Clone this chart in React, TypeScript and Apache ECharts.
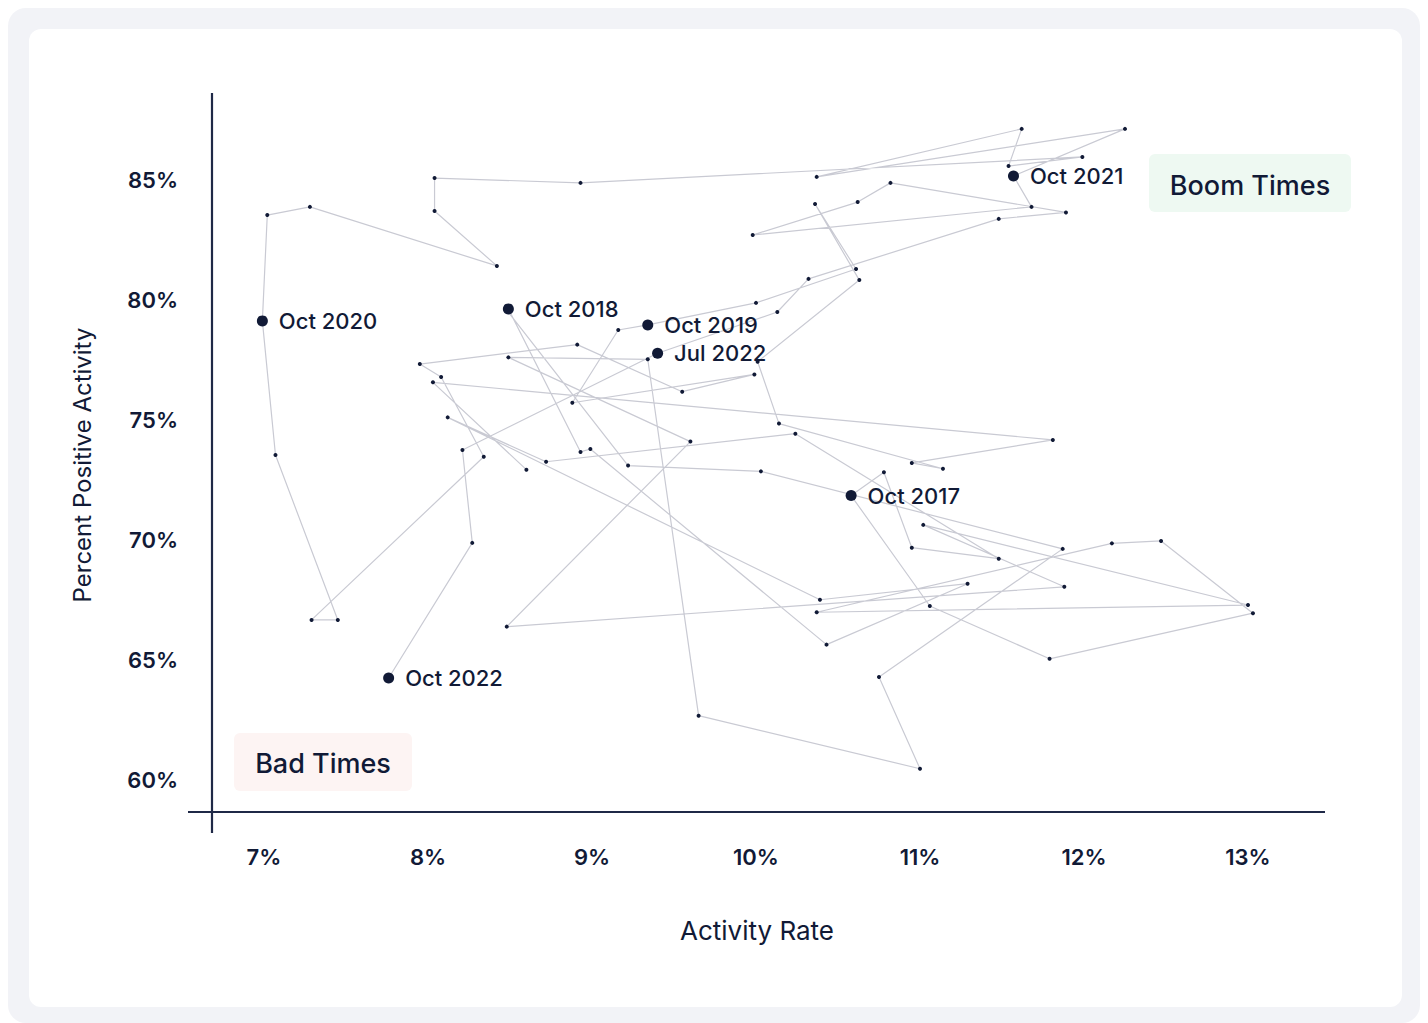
import React, { useEffect, useRef } from "react";
import * as echarts from "echarts";

// Observations in time order (Activity Rate %, Percent Positive Activity %); null = missing month
const activityRate: (number | null)[] = [
  8.48, 9.22, 10.03, 11.87, 10.75, 11.0, 9.65, 9.34, 8.49, 9.6,
  8.48, 11.88, 11.02, 13.0, 10.37, 12.17, 12.47, 13.03, 11.79, 11.06,
  10.58, 10.78, 10.95, 11.48, 10.24, 8.72, 8.12, 10.39, 11.29, 10.43,
  8.99, 8.93, 8.49, null, 8.6, 8.03, 11.81, 10.95, 11.14, 10.14,
  10.01, 10.63, 10.36, 10.61, 10.0, 9.34, 9.16, 8.88, 9.99, 9.55,
  8.91, 7.95, 8.08, 8.34, 7.29, 7.45, 7.07, 6.99, 7.02, 7.28,
  8.42, 8.04, 8.04, 8.93, 11.99, 11.54, 11.62, 10.37, 12.25, 11.57,
  11.68, 9.98, 10.62, 10.82, 11.89, 11.48, 10.32, 10.13, 9.4, 8.21,
  8.27, 7.76,
];
const percentPositive: (number | null)[] = [
  79.58, 73.1, 72.86, 69.63, 64.29, 60.47, 62.68, 77.53, 77.61, 74.1,
  66.39, 68.05, 70.63, 67.29, 66.99, 69.86, 69.96, 66.95, 65.05, 67.25,
  71.85, 72.82, 69.68, 69.22, 74.43, 73.26, 75.11, 67.51, 68.18, 65.64,
  73.79, 73.67, 79.63, null, 72.93, 76.57, 74.17, 73.21, 72.97, 74.85,
  77.43, 80.83, 84.0, 81.29, 79.88, 78.96, 78.75, 75.72, 76.9, 76.18,
  78.14, 77.33, 76.79, 73.47, 66.67, 66.67, 73.54, 79.13, 83.54, 83.88,
  81.42, 83.71, 85.08, 84.88, 85.96, 85.58, 87.13, 85.13, 87.13, 85.17,
  83.88, 82.71, 84.08, 84.88, 83.65, 83.38, 80.88, 79.5, 77.78, 73.75,
  69.88, 64.25,
];
const labeledMonths = ["Oct 2017", "Oct 2018", "Oct 2019", "Oct 2020", "Oct 2021", "Jul 2022", "Oct 2022"];
const labeledIndex = [20, 32, 45, 57, 69, 78, 81];

const xTicks = [7, 8, 9, 10, 11, 12, 13];
const yTicks = [60, 65, 70, 75, 80, 85];

const NAVY = "#111a36";
const FONT = 'Inter, "Noto Sans", sans-serif';

export default function App() {
  const ref = useRef<HTMLDivElement>(null);

  useEffect(() => {
    if (!ref.current) return;
    const chart = echarts.init(ref.current, null, { renderer: "svg" });
    const points = activityRate.map((x, i) =>
      x === null || percentPositive[i] === null ? ["-", "-"] : [x, percentPositive[i]]
    );
    const labeled = labeledIndex.map((idx, k) => ({
      name: labeledMonths[k],
      value: [activityRate[idx], percentPositive[idx]],
    }));

    const centered = {
      align: "center",
      verticalAlign: "middle",
      textAlign: "center",
      textVerticalAlign: "middle",
    };

    chart.setOption({
      animation: false,
      grid: { left: 153, right: 72, top: 31, bottom: 167 },
      xAxis: {
        type: "value",
        min: 6.5,
        max: 13.5,
        interval: 0.5,
        axisLine: { show: false },
        axisTick: { show: false },
        splitLine: { show: false },
        axisLabel: {
          margin: 6,
          color: NAVY,
          fontFamily: FONT,
          fontSize: 22,
          fontWeight: 600,
          formatter: (v: number) => (xTicks.includes(v) ? `${v}%` : ""),
        },
      },
      yAxis: {
        type: "value",
        min: 57.5,
        max: 90,
        interval: 2.5,
        axisLine: { show: false },
        axisTick: { show: false },
        splitLine: { show: false },
        axisLabel: {
          margin: 4,
          color: NAVY,
          fontFamily: FONT,
          fontSize: 22,
          fontWeight: 600,
          formatter: (v: number) => (yTicks.includes(v) ? `${v}%` : ""),
        },
      },
      series: [
        {
          type: "line",
          data: points,
          symbol: "circle",
          symbolSize: 4,
          showAllSymbol: true,
          connectNulls: false,
          itemStyle: { color: NAVY, opacity: 1 },
          lineStyle: { color: "#c9cad3", width: 1.2 },
          z: 2,
          silent: true,
        },
        {
          type: "scatter",
          data: labeled,
          symbolSize: 11,
          itemStyle: { color: NAVY, opacity: 1 },
          z: 3,
          label: {
            show: true,
            position: "right",
            distance: 11,
            formatter: "{b}",
            color: NAVY,
            fontFamily: FONT,
            fontSize: 22,
            fontWeight: 500,
          },
        },
      ],
      graphic: [
        {
          type: "line",
          shape: { x1: 183, y1: 64, x2: 183, y2: 804 },
          style: { stroke: "#1f2947", lineWidth: 2.2 },
          z: 10,
        },
        {
          type: "line",
          shape: { x1: 159, y1: 783, x2: 1296, y2: 783 },
          style: { stroke: "#1f2947", lineWidth: 2.2 },
          z: 10,
        },
        {
          type: "rect",
          shape: { x: 1120, y: 125, width: 202, height: 58, r: 6 },
          style: { fill: "#eef9f2" },
          z: 1,
        },
        {
          type: "text",
          x: 1221,
          y: 156,
          style: { text: "Boom Times", fill: NAVY, font: `500 27px ${FONT}`, ...centered },
          z: 11,
        },
        {
          type: "rect",
          shape: { x: 205, y: 704, width: 178, height: 58, r: 6 },
          style: { fill: "#fdf4f3" },
          z: 1,
        },
        {
          type: "text",
          x: 294,
          y: 734,
          style: { text: "Bad Times", fill: NAVY, font: `500 27px ${FONT}`, ...centered },
          z: 11,
        },
        {
          type: "text",
          x: 53,
          y: 436,
          rotation: Math.PI / 2,
          style: { text: "Percent Positive Activity", fill: NAVY, font: `400 24px ${FONT}`, ...centered },
          z: 11,
        },
        {
          type: "text",
          x: 728,
          y: 901,
          style: { text: "Activity Rate", fill: NAVY, font: `400 26px ${FONT}`, ...centered },
          z: 11,
        },
      ],
    });
    return () => chart.dispose();
  }, []);

  return (
    <div
      style={{
        position: "absolute",
        left: 8,
        top: 8,
        width: 1412,
        height: 1015,
        background: "#f2f3f7",
        borderRadius: 18,
      }}
    >
      <div
        style={{
          position: "absolute",
          left: 21,
          top: 21,
          width: 1373,
          height: 978,
          background: "#ffffff",
          borderRadius: 12,
        }}
      >
        <div ref={ref} style={{ width: 1373, height: 978 }} />
      </div>
    </div>
  );
}
